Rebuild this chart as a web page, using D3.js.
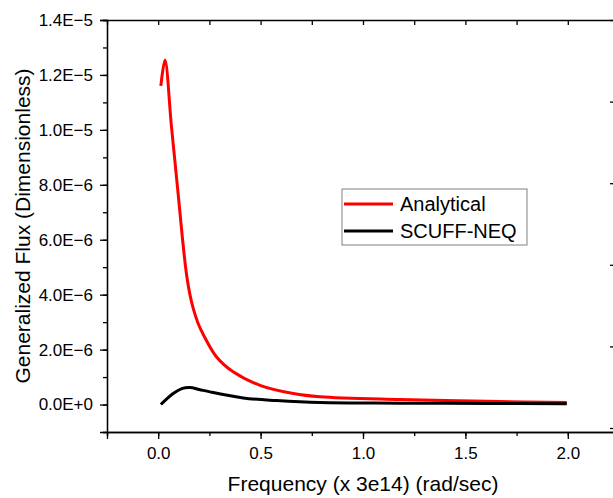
<!DOCTYPE html>
<html>
<head>
<meta charset="utf-8">
<script src="https://cdn.jsdelivr.net/npm/d3@7"></script>
<style>
  body { margin: 0; background: #fff; }
  svg text { font-family: Arial, "Liberation Sans", sans-serif; fill: #000; }
</style>
</head>
<body>
<svg id="chart"></svg>
<script>
// frequency (x 3e14 rad/sec) and flux values
const analyticalX = [0.013, 0.033, 0.065, 0.097, 0.119, 0.139, 0.155, 0.171, 0.195, 0.220, 0.285, 0.366, 0.497, 0.660, 0.790, 1.181, 1.669, 1.995];
const analyticalY = [11.6e-6, 12.54e-6, 10.1e-6, 7.7e-6, 6.0e-6, 4.7e-6, 4.0e-6, 3.5e-6, 2.95e-6, 2.55e-6, 1.73e-6, 1.19e-6, 0.70e-6, 0.40e-6, 0.28e-6, 0.18e-6, 0.11e-6, 0.07e-6];

const scuffX = [0.013, 0.073, 0.115, 0.155, 0.2, 0.253, 0.415, 0.578, 0.790, 1.18, 1.6, 1.995];
const scuffY = [0.0, 0.40e-6, 0.58e-6, 0.62e-6, 0.55e-6, 0.46e-6, 0.24e-6, 0.145e-6, 0.07e-6, 0.05e-6, 0.04e-6, 0.03e-6];

const seriesNames = ["Analytical", "SCUFF-NEQ"];
const seriesColors = ["#ff0000", "#000000"];

const yTicks = [0, 2e-6, 4e-6, 6e-6, 8e-6, 1e-5, 1.2e-5, 1.4e-5];
const xTicks = [0, 0.5, 1.0, 1.5, 2.0];

const width = 613, height = 498;
const margin = { top: 20, left: 107, bottomY: 432, rightX: 619 };

const svg = d3.select("#chart").attr("width", width).attr("height", height);

const x = d3.scaleLinear().domain([-0.25, 2.25]).range([margin.left, margin.rightX]);
const y = d3.scaleLinear().domain([-1e-6, 1.4e-5]).range([margin.bottomY, margin.top]);
const yRight = d3.scaleLinear().domain([0, 5]).range([428, margin.top]);

function fmtE(v) {
  if (v === 0) return "0.0E+0";
  const e = Math.floor(Math.log10(Math.abs(v)) + 1e-9);
  const m = v / Math.pow(10, e);
  return m.toFixed(1) + "E" + (e < 0 ? "\u2212" + (-e) : "+" + e);
}

function styleAxis(g) {
  g.selectAll("path").attr("stroke", "#000").attr("stroke-width", 1.3);
  g.selectAll("line").attr("stroke", "#000").attr("stroke-width", 1.3);
  g.selectAll("text").attr("font-size", 17);
}

// minor ticks first
svg.append("g")
  .attr("transform", `translate(${margin.left},0)`)
  .call(d3.axisLeft(y).tickValues(d3.range(-1e-6, 1.41e-5, 1e-6)).tickSize(4).tickFormat(""))
  .call(styleAxis);

svg.append("g")
  .attr("transform", `translate(0,${margin.bottomY})`)
  .call(d3.axisBottom(x).tickValues(d3.range(-0.25, 2.26, 0.25)).tickSize(4).tickFormat(""))
  .call(styleAxis);

// major axes
svg.append("g")
  .attr("transform", `translate(${margin.left},0)`)
  .call(d3.axisLeft(y).tickValues(yTicks).tickSize(7).tickPadding(7).tickFormat(fmtE))
  .call(styleAxis);

svg.append("g")
  .attr("transform", `translate(0,${margin.bottomY})`)
  .call(d3.axisBottom(x).tickValues(xTicks).tickSize(7).tickPadding(8).tickFormat(d3.format(".1f")))
  .call(styleAxis);

// top and right frame
svg.append("g")
  .attr("transform", `translate(0,${margin.top})`)
  .call(d3.axisTop(x).tickValues(d3.range(-0.25, 2.26, 0.25)).tickSizeInner(-5).tickSizeOuter(0).tickFormat(""))
  .call(styleAxis);

svg.append("g")
  .attr("transform", `translate(${margin.rightX},0)`)
  .call(d3.axisRight(yRight).ticks(5).tickSizeInner(-9).tickSizeOuter(0).tickFormat(""))
  .call(styleAxis);

// lines
const line = d3.line().x(d => x(d[0])).y(d => y(d[1])).curve(d3.curveCatmullRom.alpha(0.5));
const series = [
  d3.zip(analyticalX, analyticalY),
  d3.zip(scuffX, scuffY)
];

svg.selectAll(".series")
  .data(series)
  .join("path")
  .attr("class", "series")
  .attr("fill", "none")
  .attr("stroke", (d, i) => seriesColors[i])
  .attr("stroke-width", 3)
  .attr("stroke-linejoin", "round")
  .attr("d", line);

// axis titles
svg.append("text")
  .attr("x", 363)
  .attr("y", 491)
  .attr("text-anchor", "middle")
  .attr("font-size", 21)
  .text("Frequency (x 3e14) (rad/sec)");

svg.append("text")
  .attr("transform", "translate(30,226) rotate(-90)")
  .attr("text-anchor", "middle")
  .attr("font-size", 21)
  .text("Generalized Flux (Dimensionless)");

// legend
const legend = svg.append("g").attr("transform", "translate(342,189)");
legend.append("rect")
  .attr("width", 185).attr("height", 56)
  .attr("fill", "#fff").attr("stroke", "#808080").attr("stroke-width", 1);

seriesNames.forEach((name, i) => {
  const ly = 15 + i * 27;
  legend.append("line")
    .attr("x1", 2).attr("x2", 51).attr("y1", ly).attr("y2", ly)
    .attr("stroke", seriesColors[i]).attr("stroke-width", 3);
  legend.append("text")
    .attr("x", 58).attr("y", ly + 7)
    .attr("font-size", 20)
    .text(name);
});
</script>
</body>
</html>
